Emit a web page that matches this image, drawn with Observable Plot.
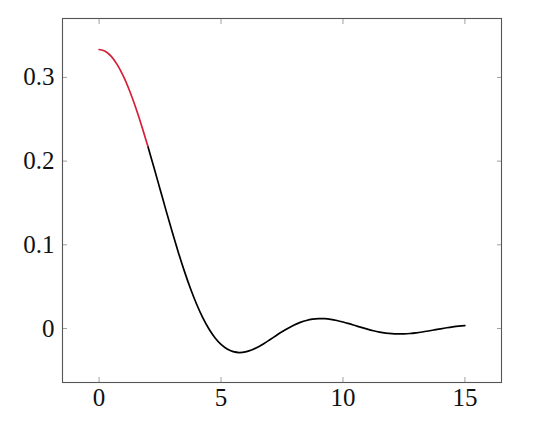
<!DOCTYPE html>
<html>
<head>
<meta charset="utf-8">
<script src="https://cdn.jsdelivr.net/npm/d3@7"></script>
<script src="https://cdn.jsdelivr.net/npm/@observablehq/plot@0.6"></script>
<style>
  html, body { margin: 0; padding: 0; background: #fff; }
</style>
</head>
<body>
<div id="chart"></div>
<script>
// Curve samples (x, y)
const xValues = [0, 0.25, 0.5, 0.75, 1, 1.25, 1.5, 1.75, 2, 2.25, 2.5, 2.75, 3, 3.25, 3.5, 3.75,
  4, 4.25, 4.5, 4.75, 5, 5.25, 5.5, 5.75, 6, 6.25, 6.5, 6.75, 7, 7.25, 7.5, 7.75,
  8, 8.25, 8.5, 8.75, 9, 9.25, 9.5, 9.75, 10, 10.25, 10.5, 10.75, 11, 11.25, 11.5, 11.75,
  12, 12.25, 12.5, 12.75, 13, 13.25, 13.5, 13.75, 14, 14.25, 14.5, 14.75, 15];
const yValues = [0.33333, 0.331255, 0.325074, 0.314956, 0.301169, 0.284074, 0.264115, 0.241804,
  0.217699, 0.192392, 0.166485, 0.140573, 0.115226, 0.090967, 0.068264, 0.047513,
  0.029028, 0.013038, -0.000318, -0.010991, -0.019018, -0.024515, -0.027668, -0.028721,
  -0.027965, -0.025722, -0.022331, -0.018131, -0.013470, -0.008645, -0.003939, 0.000409,
  0.004206, 0.007290, 0.009632, 0.011135, 0.011814, 0.011727, 0.010961, 0.009615,
  0.007847, 0.005775, 0.003553, 0.001323, -0.000788, -0.002668, -0.004230, -0.005410,
  -0.006171, -0.006502, -0.006420, -0.005960, -0.005178, -0.004144, -0.002938, -0.001641,
  -0.000337, 0.000898, 0.001995, 0.002899, 0.003569];
const redUntil = 2;          // x where the red part ends
const xTicks = [0, 5, 10, 15];
const yTicks = [0, 0.1, 0.2, 0.3];
const xTickLabels = ["0", "5", "10", "15"];
const yTickLabels = ["0", "0.1", "0.2", "0.3"];
const xDomain = [-1.5, 16.5];
const yDomain = [-0.0645, 0.3704];

const points = xValues.map((x, i) => ({x, y: yValues[i]}));
const redPart = points.filter(d => d.x <= redUntil);
const blackPart = points.filter(d => d.x >= redUntil);
const xLabelData = xTicks.map((v, i) => ({v, t: xTickLabels[i]}));
const yLabelData = yTicks.map((v, i) => ({v, t: yTickLabels[i]}));

const font = "Liberation Serif, serif";
const tickColor = "#a0a0a0";
const labelSize = 25;

const chart = Plot.plot({
  width: 540,
  height: 424,
  marginLeft: 62,
  marginRight: 39,
  marginTop: 18,
  marginBottom: 42,
  style: {fontFamily: font, background: "#fff", color: "#111"},
  x: {domain: xDomain, axis: null},
  y: {domain: yDomain, axis: null},
  marks: [
    // inward tick marks on all four sides
    Plot.axisX(xTicks, {anchor: "bottom", tickSize: -5, tickFormat: () => "", stroke: tickColor, label: null}),
    Plot.axisX(xTicks, {anchor: "top", tickSize: -5, tickFormat: () => "", stroke: tickColor, label: null}),
    Plot.axisY(yTicks, {anchor: "left", tickSize: -5, tickFormat: () => "", stroke: tickColor, label: null}),
    Plot.axisY(yTicks, {anchor: "right", tickSize: -5, tickFormat: () => "", stroke: tickColor, label: null}),
    // tick labels
    Plot.text(xLabelData, {x: "v", text: "t", frameAnchor: "bottom", lineAnchor: "top", dy: 6,
      fontSize: labelSize, fill: "#111"}),
    Plot.text(yLabelData, {y: "v", text: "t", frameAnchor: "left", textAnchor: "end", dx: -8,
      fontSize: labelSize, fill: "#111"}),
    Plot.frame({stroke: "#555", strokeWidth: 1.1}),
    Plot.line(blackPart, {x: "x", y: "y", stroke: "#000", strokeWidth: 1.7, curve: "catmull-rom"}),
    Plot.line(redPart, {x: "x", y: "y", stroke: "#d4213a", strokeWidth: 1.7, curve: "catmull-rom"})
  ]
});
document.getElementById("chart").appendChild(chart);
</script>
</body>
</html>
